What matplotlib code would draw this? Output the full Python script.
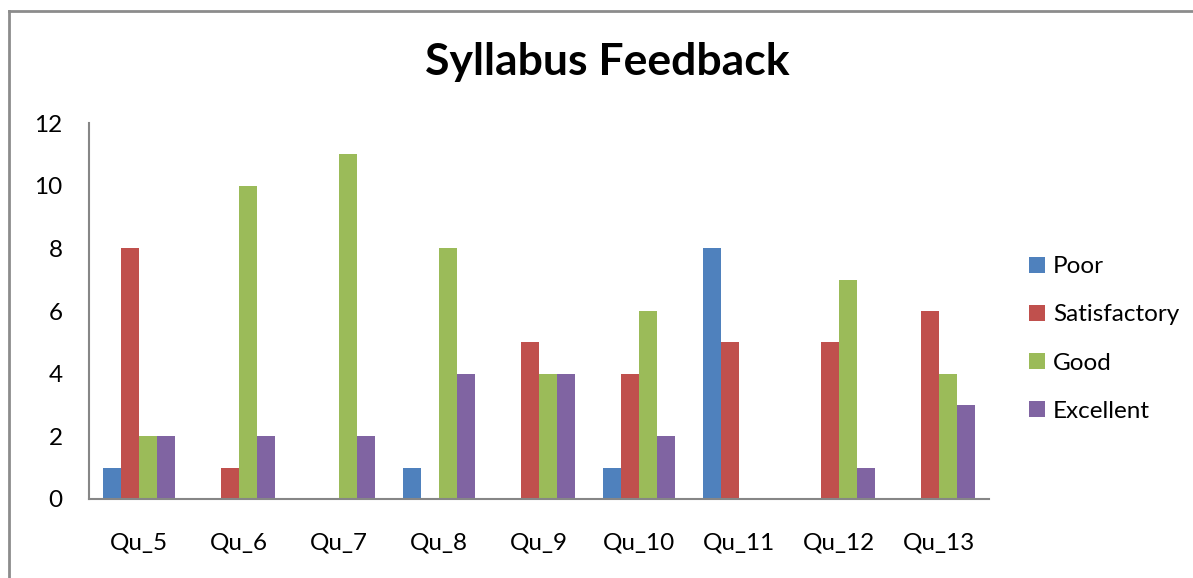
import numpy as np
import matplotlib.pyplot as plt
from matplotlib.lines import Line2D

plt.rcParams['font.family'] = ['Lato', 'DejaVu Sans']

categories = ['Qu_5', 'Qu_6', 'Qu_7', 'Qu_8', 'Qu_9', 'Qu_10', 'Qu_11', 'Qu_12', 'Qu_13']
poor = [1, 0, 0, 1, 0, 1, 8, 0, 0]
satisfactory = [8, 1, 0, 0, 5, 4, 5, 5, 6]
good = [2, 10, 11, 8, 4, 6, 0, 7, 4]
excellent = [2, 2, 2, 4, 4, 2, 0, 1, 3]

series = [('Poor', poor, '#4F81BD'),
          ('Satisfactory', satisfactory, '#C0504D'),
          ('Good', good, '#9BBB59'),
          ('Excellent', excellent, '#8064A2')]

fig = plt.figure(figsize=(11.93, 5.78), dpi=100)
ax = fig.add_axes([0.0746, 0.1367, 0.7544, 0.6503])

x = np.arange(len(categories))
w = 0.18
for k, (name, vals, col) in enumerate(series):
    ax.bar(x + (k - 1.5) * w, vals, w, color=col, label=name)

ax.set_xlim(-0.5, len(categories) - 0.5)
ax.set_ylim(0, 12)
ax.set_yticks(range(0, 13, 2))
ax.set_xticks(x)
ax.set_xticklabels(categories)
ax.tick_params(axis='both', length=0, labelsize=17.5, colors='black')
ax.tick_params(axis='x', pad=24)
ax.tick_params(axis='y', pad=19)
for s in ['top', 'right']:
    ax.spines[s].set_visible(False)
for s in ['left', 'bottom']:
    ax.spines[s].set_color('#868686')
    ax.spines[s].set_linewidth(1.5)

fig.text(0.509, 0.893, 'Syllabus Feedback', ha='center', va='center',
         fontsize=32, fontweight='bold')

leg = ax.legend(loc='center left', bbox_to_anchor=(1.02, 0.4255), frameon=False,
                fontsize=17.5, handlelength=0.65, handleheight=0.65,
                handletextpad=0.35, labelspacing=1.12)

# outer chart frame (left and top edges visible)
fig.add_artist(Line2D([0.0075, 0.0075], [0, 0.981], transform=fig.transFigure,
                      color='#8c8c8c', lw=2))
fig.add_artist(Line2D([0.0075, 1], [0.981, 0.981], transform=fig.transFigure,
                      color='#8c8c8c', lw=2))

fig.savefig('out.png', dpi=100)
